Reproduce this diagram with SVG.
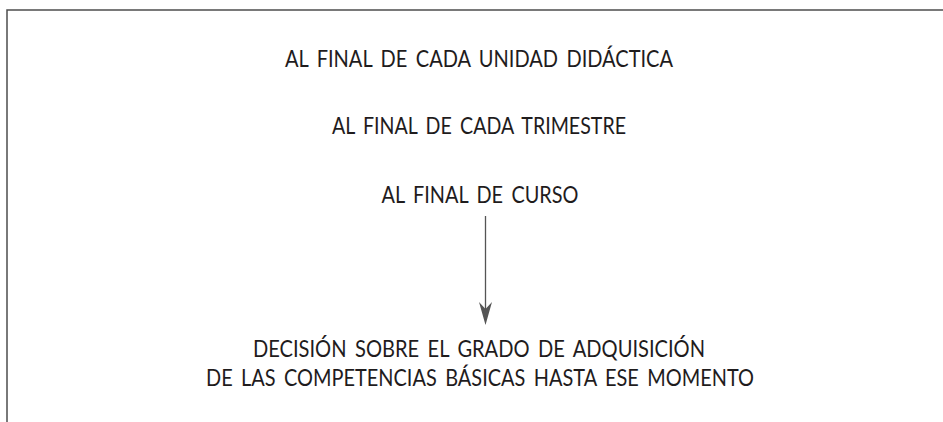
<svg xmlns="http://www.w3.org/2000/svg" width="943" height="422" viewBox="0 0 943 422">
<style>
.t{font-family:Lato,"Open Sans","DejaVu Sans",sans-serif;font-size:24px;fill:#1f1c1d;text-anchor:middle;word-spacing:4px}
.frame{fill:none;stroke:#4d4d4d;stroke-width:1.5}
.conn{stroke:#555;stroke-width:1.3;fill:none}
</style>
<defs>
<marker id="ah" viewBox="0 0 23 13" refX="13" refY="6.5" markerWidth="23" markerHeight="13" markerUnits="userSpaceOnUse" orient="auto">
<path d="M0,0 L23,6.5 L0,13 L7,6.5 Z" fill="#555"/>
</marker>
</defs>
<rect width="943" height="422" fill="#fff"/>
<path class="frame" d="M7,422 V10 H943"/>
<g id="n1"><text class="t" x="479" y="67" textLength="388" lengthAdjust="spacingAndGlyphs">AL FINAL DE CADA UNIDAD DIDÁCTICA</text></g>
<g id="n2"><text class="t" x="479" y="134" textLength="294" lengthAdjust="spacingAndGlyphs">AL FINAL DE CADA TRIMESTRE</text></g>
<g id="n3"><text class="t" x="480" y="203" textLength="197" lengthAdjust="spacingAndGlyphs">AL FINAL DE CURSO</text></g>
<g id="n4"><text class="t" x="479" y="357" textLength="452" lengthAdjust="spacingAndGlyphs">DECISIÓN SOBRE EL GRADO DE ADQUISICIÓN</text>
<text class="t" x="480" y="386" textLength="548" lengthAdjust="spacingAndGlyphs">DE LAS COMPETENCIAS BÁSICAS HASTA ESE MOMENTO</text></g>
<g id="connectors"><line class="conn" x1="485.5" y1="216" x2="485.5" y2="315" marker-end="url(#ah)"/></g>
</svg>
